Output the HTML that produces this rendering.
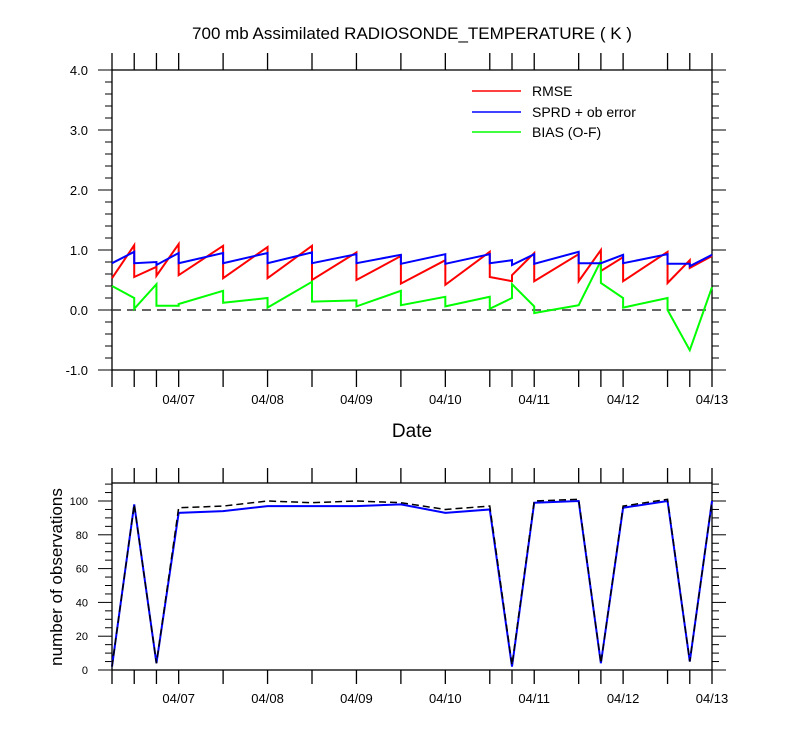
<!DOCTYPE html>
<html><head><meta charset="utf-8"><style>
body{margin:0;background:#fff}
svg{display:block;font-family:"Liberation Sans",sans-serif}
</style></head><body>
<svg id="c" width="800" height="750" xmlns="http://www.w3.org/2000/svg">
<text x="412" y="39" font-size="17" text-anchor="middle">700 mb Assimilated RADIOSONDE_TEMPERATURE ( K )</text>
<text x="412" y="437" font-size="19" text-anchor="middle">Date</text>
<text transform="translate(62,577) rotate(-90)" font-size="17" text-anchor="middle">number of observations</text>
<g>
<line x1="472" y1="91" x2="521" y2="91" stroke="#f00" stroke-width="1.5"/>
<text x="532" y="96" font-size="14">RMSE</text>
<line x1="472" y1="112" x2="521" y2="112" stroke="#00f" stroke-width="1.5"/>
<text x="532" y="117" font-size="14">SPRD + ob error</text>
<line x1="472" y1="132" x2="521" y2="132" stroke="#0f0" stroke-width="1.5"/>
<text x="532" y="137" font-size="14">BIAS (O-F)</text>
</g>
</svg>
<script>
// time in 6-hour steps since 04/06 06Z
const times=[0,1,2,3,5,7,9,11,13,15,17,18,19,21,22,23,25,26,27];
const dateLabels=["04/07","04/08","04/09","04/10","04/11","04/12","04/13"];
const dateSteps=[3,7,11,15,19,23,27];
// segment i goes from times[i] (start value) to times[i+1] (end value)
const rmseStart=[0.53,0.55,0.57,0.58,0.53,0.53,0.5,0.5,0.44,0.42,0.55,0.58,0.48,0.48,0.65,0.48,0.45,0.7];
const rmseEnd=[1.08,0.72,1.1,1.07,1.05,1.07,0.96,0.9,0.83,0.97,0.48,0.95,0.93,1.0,0.88,0.97,0.83,0.9];
const sprdStart=[0.78,0.78,0.75,0.78,0.78,0.78,0.78,0.78,0.77,0.77,0.78,0.75,0.77,0.78,0.78,0.78,0.77,0.73];
const sprdEnd=[0.97,0.8,0.95,0.95,0.95,0.96,0.93,0.92,0.93,0.93,0.83,0.93,0.97,0.78,0.92,0.93,0.77,0.92];
const biasStart=[0.4,0.02,0.07,0.1,0.12,0.04,0.14,0.06,0.08,0.06,0.02,0.43,-0.05,0.08,0.45,0.04,0,-0.67];
const biasEnd=[0.2,0.43,0.07,0.32,0.2,0.47,0.16,0.32,0.22,0.22,0.2,0.06,0.08,0.82,0.2,0.2,-0.67,0.38];
const nobsAssim=[2,98,4,93,94,97,97,97,98,93,95,2,99,100,4,96,100,5,100];
const nobsTotal=[2,98,4,96,97,100,99,100,99,95,97,3,100,101,4,97,101,5,100];
const topTicks=[4,3,2,1,0,-1];
const botTicks=[0,20,40,60,80,100];

const NS="http://www.w3.org/2000/svg";
const svg=document.getElementById('c');
const X0=112,X1=712;
const x=t=>X0+(X1-X0)*t/27;
const yT=v=>310-60*v;
const yB=v=>670-1.69*v;
function el(tag,attrs,parent){const e=document.createElementNS(NS,tag);for(const k in attrs)e.setAttribute(k,attrs[k]);(parent||svg).appendChild(e);return e;}
function line(x1,y1,x2,y2,w){return el('line',{x1,y1,x2,y2,stroke:'#000','stroke-width':w||1});}

// top frame
let f=el('rect',{x:X0,y:70,width:600,height:300,fill:'none',stroke:'#000','stroke-width':1.3});


// bottom frame
f=el('rect',{x:X0,y:483,width:600,height:187,fill:'none',stroke:'#000','stroke-width':1.3});



// x ticks
times.forEach(t=>{const xx=x(t);line(xx,70,xx,53,1.3);line(xx,370,xx,387,1.3);line(xx,483,xx,468,1.3);line(xx,670,xx,684,1.3);});
dateLabels.forEach((d,i)=>{
  let t=el('text',{x:x(dateSteps[i]),y:404,'font-size':13,'text-anchor':'middle'});t.textContent=d;
  
  
  t=el('text',{x:x(dateSteps[i]),y:703,'font-size':13,'text-anchor':'middle'});t.textContent=d;
  
  
});
// top y ticks
for(let v=-1;v<=4.001;v+=0.2){const yy=yT(v);const maj=Math.abs(v-Math.round(v))<1e-6;const L=maj?14:7;line(X0,yy,X0-L,yy,1);line(X1,yy,X1+L,yy,1);}
topTicks.forEach(v=>{const t=el('text',{x:88,y:yT(v)+5,'font-size':13,'text-anchor':'end'});t.textContent=v.toFixed(1);
  
  });
// bottom y ticks
for(let v=0;v<=110;v+=5){const yy=yB(v);const maj=v%20==0;const L=maj?14:7;line(X0,yy,X0-L,yy,1);line(X1,yy,X1+L,yy,1);}
botTicks.forEach(v=>{const t=el('text',{x:88,y:yB(v)+4,'font-size':11,'text-anchor':'end'});t.textContent=v;
  
  });

// zero line
let z=el('line',{x1:X0,y1:yT(0),x2:X1,y2:yT(0),stroke:'#333','stroke-width':1.5,'stroke-dasharray':'9,6'});



function saw(st,en,color,name){
  let p=[];
  for(let i=0;i<st.length;i++){p.push(x(times[i])+','+yT(st[i]));p.push(x(times[i+1])+','+yT(en[i]));}
  const e=el('polyline',{points:p.join(' '),fill:'none',stroke:color,'stroke-width':2,'stroke-linejoin':'miter'});
  
  
}
saw(rmseStart,rmseEnd,'#f00','rmse-line');
saw(biasStart,biasEnd,'#0f0','bias-line');
saw(sprdStart,sprdEnd,'#00f','sprd-line');

let pa=el('polyline',{points:times.map((t,i)=>x(t)+','+yB(nobsAssim[i])).join(' '),fill:'none',stroke:'#00f','stroke-width':2});


let pt=el('polyline',{points:times.map((t,i)=>x(t)+','+yB(nobsTotal[i])).join(' '),fill:'none',stroke:'#000','stroke-width':1.5,'stroke-dasharray':'7,4'});


</script>
</body></html>
